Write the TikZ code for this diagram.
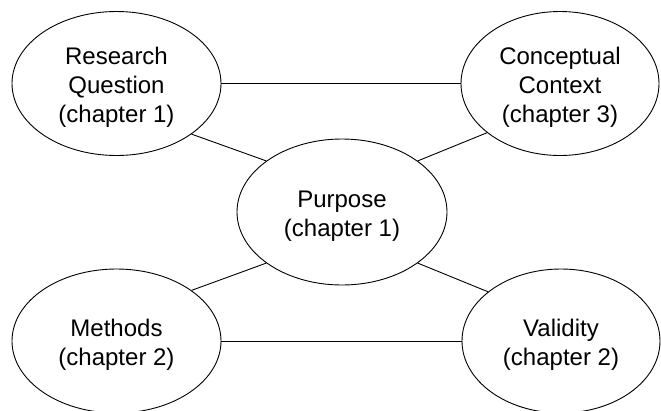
\documentclass[tikz,border=0pt]{standalone}
\usepackage{fontspec}
\setmainfont{Liberation Sans}
\usetikzlibrary{shapes.geometric}
% a taller first line sets each label a little below the centre of its ellipse
\newcommand\toppad{\rule{0pt}{25pt}}
\begin{document}
\begin{tikzpicture}[x=1pt,y=-1pt,
  topic/.style={ellipse, draw, line width=0.9pt, inner sep=0pt, align=center,
    minimum width=204pt, minimum height=144pt,
    font=\fontsize{24}{29}\selectfont},
  link/.style={line width=0.9pt}]
\useasboundingbox (0,0) rectangle (661,410);
% the five topics
\node[topic, minimum width=209pt] (rq) at (116.5,83.5) {\toppad Research\\Question\\(chapter 1)};
\node[topic, minimum width=198pt] (cc) at (560,83.5) {\toppad Conceptual\\Context\\(chapter 3)};
\node[topic, minimum width=210pt, minimum height=146pt] (pu) at (342,212) {\toppad Purpose\\(chapter 1)};
\node[topic, minimum width=209pt] (me) at (116.5,341) {\toppad Methods\\(chapter 2)};
\node[topic, minimum width=198pt] (va) at (561,341) {\toppad Validity\\(chapter 2)};
% connections
\draw[link] (rq.east) -- (cc.west);
\draw[link] (me.east) -- (va.west);
\draw[link] (rq.-34) -- (pu.146);
\draw[link] (pu.34) -- (cc.-146);
\draw[link] (pu.-146) -- (me.34);
\draw[link] (pu.-34) -- (va.146);
\end{tikzpicture}
\end{document}
